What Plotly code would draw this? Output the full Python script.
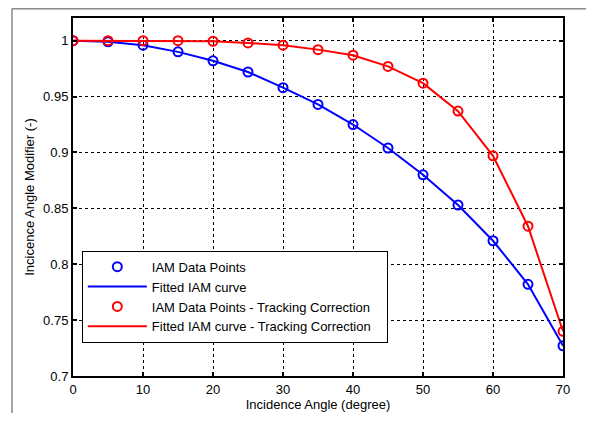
import plotly.graph_objects as go

angles = [0, 5, 10, 15, 20, 25, 30, 35, 40, 45, 50, 55, 60, 65, 70]
iam = [1.0, 0.999, 0.996, 0.990, 0.982, 0.972, 0.958, 0.943, 0.925, 0.904, 0.880, 0.853, 0.821, 0.782, 0.727]
iam_tracking = [1.0, 1.0, 1.0, 1.0, 0.9995, 0.998, 0.996, 0.992, 0.987, 0.977, 0.962, 0.937, 0.897, 0.834, 0.740]

x_ticks = [0, 10, 20, 30, 40, 50, 60, 70]
y_ticks = [0.7, 0.75, 0.8, 0.85, 0.9, 0.95, 1.0]
y_tick_text = ["0.7", "0.75", "0.8", "0.85", "0.9", "0.95", "1"]

BLUE = "#0000ff"
RED = "#ff0000"
FONT = "Liberation Sans, Arial"
PAD = "\u00a0\u00a0\u00a0"

fig = go.Figure()
fig.add_trace(go.Scatter(x=angles, y=iam, mode="lines", name="Fitted IAM curve",
                         line=dict(color=BLUE, width=2), legendrank=2))
fig.add_trace(go.Scatter(x=angles, y=iam, mode="markers", name="IAM Data Points",
                         marker=dict(symbol="circle-open", size=9, color=BLUE, line=dict(width=2)),
                         legendrank=1))
fig.add_trace(go.Scatter(x=angles, y=iam_tracking, mode="lines", name="Fitted IAM curve - Tracking Correction" + PAD,
                         line=dict(color=RED, width=2), legendrank=4))
fig.add_trace(go.Scatter(x=angles, y=iam_tracking, mode="markers", name="IAM Data Points - Tracking Correction",
                         marker=dict(symbol="circle-open", size=9, color=RED, line=dict(width=2)),
                         legendrank=3))

axis_common = dict(
    showline=True, linecolor="black", linewidth=2, mirror="allticks",
    ticks="inside", ticklen=4, tickwidth=1.5, tickcolor="black",
    showgrid=True, gridcolor="black", gridwidth=1, griddash="dot",
    zeroline=False, automargin=False,
    tickfont=dict(family=FONT, size=13, color="black"),
)

fig.update_xaxes(range=[0, 70], tickvals=x_ticks,
                 title=dict(text="Incidence Angle (degree)", standoff=2,
                            font=dict(family=FONT, size=13, color="black")),
                 **axis_common)
fig.update_yaxes(range=[0.7, 1.0203], tickvals=y_ticks, ticktext=y_tick_text,
                 title=dict(text="Incicence Angle Modifier (-)", standoff=6,
                            font=dict(family=FONT, size=13, color="black")),
                 **axis_common)

# figure frame (gray) on left and top; the page body adds an 8px offset
# plot area: page x 73..563, y 18..376 -> figure px x 65..555, y 10..368
fig.add_shape(type="line", xref="paper", yref="paper", x0=-0.1245, y0=1.026, x1=1.1, y1=1.026,
              line=dict(color="#888888", width=1.5))
fig.add_shape(type="line", xref="paper", yref="paper", x0=-0.1245, y0=1.026, x1=-0.1245, y1=-0.2,
              line=dict(color="#888888", width=1.5))

fig.update_layout(
    width=578, height=405,
    margin=dict(l=65, r=23, t=10, b=37),
    paper_bgcolor="white", plot_bgcolor="white",
    font=dict(family=FONT, size=13, color="black"),
    legend=dict(x=0.018, y=0.35, xanchor="left", yanchor="top",
                bgcolor="white", bordercolor="black", borderwidth=1,
                itemwidth=59, font=dict(size=13), tracegroupgap=0),
    showlegend=True,
)

fig.write_html("out.html")
